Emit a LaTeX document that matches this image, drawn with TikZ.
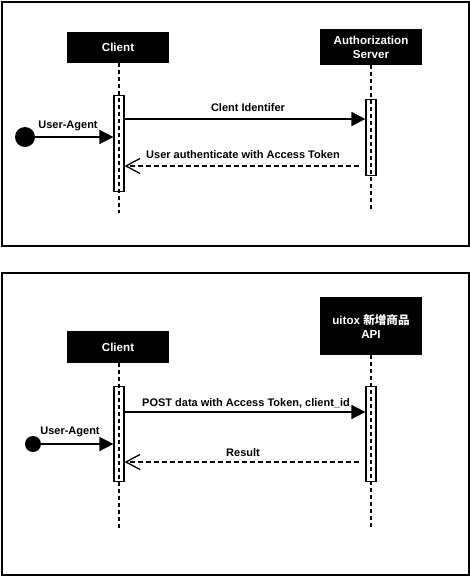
\documentclass[tikz,border=0pt]{standalone}
\usepackage{fontspec}
\setmainfont{Liberation Sans}
\newfontfamily\cjk{Noto Sans CJK TC}
\usetikzlibrary{arrows.meta}
\begin{document}
\begin{tikzpicture}[x=1pt,y=-1pt,
  frame/.style={draw=black,line width=1.8pt},
  actor/.style={fill=black,text=white,font=\bfseries\fontsize{11.6}{14}\selectfont,align=center,inner sep=0pt},
  life/.style={draw=black,line width=1.3pt,dash pattern=on 4pt off 3pt},
  actbar/.style={draw=black,line width=1.2pt,inner sep=0pt,minimum width=10pt},
  msg/.style={draw=black,line width=1.5pt,-{Triangle[length=14pt,width=14pt]}},
  reply/.style={draw=black,line width=1.3pt,dash pattern=on 5pt off 3pt,-{Straight Barb[length=14pt,width=15pt,line width=1.3pt]}},
  lbl/.style={font=\bfseries\fontsize{11}{13}\selectfont,inner sep=0pt},
  start/.style={circle,fill=black,inner sep=0pt}]
\useasboundingbox (0,0) rectangle (470,577);
% ---- top panel ----
\node[frame,minimum width=467pt,minimum height=244pt,anchor=north west] (f1) at (1,1) {};
\node[actor,minimum width=102pt,minimum height=31pt] (c1) at (118,47.5) {Client};
\node[actor,minimum width=102pt,minimum height=36pt] (a1) at (371,47) {Authorization\\Server};
\coordinate (c1end) at (119,213);
\coordinate (a1end) at (371,211);
\draw[life] (c1.south -| c1end) -- (c1end);
\draw[life] (a1.south -| a1end) -- (a1end);
\node[actbar,minimum height=96pt,anchor=north] (c1b) at (119,95) {};
\node[actbar,minimum height=76pt,anchor=north] (a1b) at (371,99) {};
\node[start,minimum size=20pt] (u1) at (25,137) {};
\draw[msg] (u1.east) -- (c1b.west |- u1.east);
\node[lbl] (u1l) at (68,126) {User-Agent};
\draw[msg] (c1b.east |- 0,119) -- (a1b.west |- 0,119);
\node[lbl] (m1l) at (248,108) {Clent Identifer};
\draw[reply] (a1b.west |- 0,166) ++(-6,0) coordinate (r1s) -- (c1b.east |- 0,166);
\node[lbl] (r1l) at (243,155) {User authenticate with Access Token};
% ---- bottom panel ----
\node[frame,minimum width=467pt,minimum height=302pt,anchor=north west] (f2) at (1,272) {};
\node[actor,minimum width=102pt,minimum height=32pt] (c2) at (118,347) {Client};
\node[actor,minimum width=102pt,minimum height=58pt] (a2) at (371,326) {uitox {\cjk 新增商品}\\API};
\coordinate (c2end) at (119,529);
\coordinate (a2end) at (371,529);
\draw[life] (c2.south -| c2end) -- (c2end);
\draw[life] (a2.south -| a2end) -- (a2end);
\node[actbar,minimum height=95pt,anchor=north] (c2b) at (119,386) {};
\node[actbar,minimum height=95pt,anchor=north] (a2b) at (371,386) {};
\node[start,minimum size=16pt] (u2) at (33,444) {};
\draw[msg] (u2.east) -- (c2b.west |- u2.east);
\node[lbl] (u2l) at (70,432) {User-Agent};
\draw[msg] (c2b.east |- 0,412) -- (a2b.west |- 0,412);
\node[lbl] (m2l) at (246,403) {POST data with Access Token, client\_id};
\draw[reply] (a2b.west |- 0,462) ++(-6,0) coordinate (r2s) -- (c2b.east |- 0,462);
\node[lbl] (r2l) at (243,453) {Result};
\end{tikzpicture}
\end{document}
